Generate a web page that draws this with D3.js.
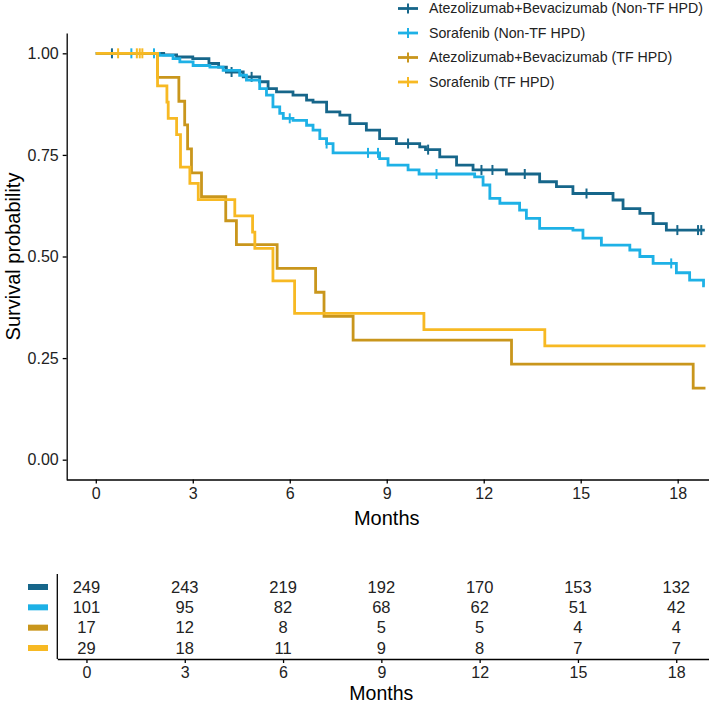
<!DOCTYPE html>
<html>
<head>
<meta charset="utf-8">
<script src="https://cdn.jsdelivr.net/npm/d3@7"></script>
<style>
  body { margin: 0; background: #fff; }
  svg { font-family: "Liberation Sans", Arial, sans-serif; }
  .axis path, .axis line { stroke: #000; stroke-width: 1.3; }
  .axis text { font-size: 16px; fill: #222; }
</style>
</head>
<body>
<svg id="km"></svg>
<script>
"use strict";

// groups and colours
const groups = [
  "Atezolizumab+Bevacizumab (Non-TF HPD)",
  "Sorafenib (Non-TF HPD)",
  "Atezolizumab+Bevacizumab (TF HPD)",
  "Sorafenib (TF HPD)"
];
const palette = ["#16668a", "#1eb1e6", "#c9961c", "#f7b923"];

// step points [month, survival]
const atezoNonTF = [[0,1],[2.1,0.996],[2.5,0.991],[3.0,0.987],[3.5,0.975],[3.8,0.966],[4.04,0.954],
  [4.56,0.942],[5.07,0.93],[5.33,0.913],[5.59,0.905],[6.1,0.897],[6.52,0.885],[6.72,0.88],[7.14,0.856],
  [7.55,0.848],[7.86,0.827],[8.37,0.811],[8.78,0.79],[9.3,0.778],[10.02,0.77],[10.2,0.763],[10.64,0.745],
  [11.16,0.725],[11.67,0.713],[12.7,0.703],[13.73,0.684],[14.25,0.672],[14.76,0.655],[16.0,0.639],
  [16.31,0.618],[16.83,0.606],[17.24,0.581],[17.65,0.565],[18.84,0.565]];
const sorafNonTF = [[0,1],[1.96,0.995],[2.39,0.987],[2.6,0.979],[3.01,0.97],[3.53,0.966],[3.94,0.958],
  [4.45,0.946],[4.66,0.934],[5.07,0.913],[5.28,0.897],[5.48,0.868],[5.69,0.852],[5.8,0.84],[6.1,0.835],
  [6.52,0.823],[6.72,0.811],[6.93,0.79],[7.14,0.778],[7.34,0.755],[8.78,0.741],[9.04,0.725],[9.66,0.713],
  [10.0,0.703],[11.72,0.696],[11.98,0.676],[12.19,0.643],[12.5,0.631],[13.11,0.614],[13.32,0.594],
  [13.73,0.569],[14.76,0.565],[15.07,0.545],[15.64,0.528],[16.52,0.516],[16.83,0.5],[17.24,0.483],
  [17.96,0.46],[18.37,0.442],[18.8,0.428],[18.84,0.428]];
const atezoTF = [[0,1],[1.91,0.941],[2.57,0.882],[2.75,0.824],[2.84,0.765],[2.96,0.706],[3.27,0.647],
  [4.02,0.588],[4.35,0.529],[5.61,0.471],[6.8,0.412],[7.06,0.353],[7.96,0.294],[12.86,0.235],
  [18.48,0.176],[18.86,0.176]];
const sorafTF = [[0,1],[1.91,0.92],[2.2,0.88],[2.24,0.84],[2.5,0.8],[2.62,0.72],[2.91,0.68],[3.17,0.64],
  [4.3,0.6],[4.85,0.56],[4.92,0.52],[5.48,0.44],[6.15,0.36],[10.15,0.32],[13.89,0.28],[18.86,0.28]];
const curves = [atezoNonTF, sorafNonTF, atezoTF, sorafTF];

// censored times (months)
const censorAtezoNonTF = [0.5, 4.2, 4.82, 9.66, 10.28, 11.93, 12.27, 13.27, 15.18, 17.99, 18.63, 18.73];
const censorSorafNonTF = [1.1, 1.8, 6.0, 7.14, 8.42, 8.73, 10.54, 17.8];
const censorAtezoTF = [];
const censorSorafTF = [0.69, 1.27, 1.36, 1.44];
const censors = [censorAtezoNonTF, censorSorafNonTF, censorAtezoTF, censorSorafTF];

// ticks and number at risk
const monthTicks = [0, 3, 6, 9, 12, 15, 18];
const survTicks = [0, 0.25, 0.5, 0.75, 1];
const riskAtezoNonTF = [249, 243, 219, 192, 170, 153, 132];
const riskSorafNonTF = [101, 95, 82, 68, 62, 51, 42];
const riskAtezoTF = [17, 12, 8, 5, 5, 4, 4];
const riskSorafTF = [29, 18, 11, 9, 8, 7, 7];
const risks = [riskAtezoNonTF, riskSorafNonTF, riskAtezoTF, riskSorafTF];

const width = 709, height = 706;
const svg = d3.select("#km").attr("width", width).attr("height", height);

// main plot scales
const x = d3.scaleLinear().domain([-0.9, 19.0]).range([66.7, 710]);
const y = d3.scaleLinear().domain([-0.05, 1.05]).range([480, 33]);

const survAt = (pts, t) => {
  let s = 1;
  pts.forEach(p => { if (p[0] <= t) s = p[1]; });
  return s;
};

// axes
svg.append("g")
  .attr("class", "axis")
  .attr("transform", "translate(0,479.5)")
  .call(d3.axisBottom(x).tickValues(monthTicks).tickSize(4).tickSizeOuter(0).tickPadding(4));
svg.append("g")
  .attr("class", "axis")
  .attr("transform", "translate(66.7,0)")
  .call(d3.axisLeft(y).tickValues(survTicks).tickFormat(d3.format(".2f")).tickSize(4).tickSizeOuter(0).tickPadding(4));

svg.append("text")
  .attr("x", x(9))
  .attr("y", 525)
  .attr("text-anchor", "middle")
  .style("font-size", "20px")
  .text("Months");
svg.append("text")
  .attr("transform", `translate(20,${y(0.5)}) rotate(-90)`)
  .attr("text-anchor", "middle")
  .style("font-size", "20px")
  .text("Survival probability");

// curves
const line = d3.line()
  .x(d => x(d[0]))
  .y(d => y(d[1]))
  .curve(d3.curveStepAfter);

curves.forEach((pts, i) => {
  svg.append("path")
    .datum(pts)
    .attr("d", line)
    .attr("fill", "none")
    .attr("stroke", palette[i])
    .attr("stroke-width", 2.8);
  svg.append("g")
    .selectAll("line")
    .data(censors[i])
    .join("line")
    .attr("x1", d => x(d))
    .attr("x2", d => x(d))
    .attr("y1", d => y(survAt(pts, d)) - 5)
    .attr("y2", d => y(survAt(pts, d)) + 5)
    .attr("stroke", palette[i])
    .attr("stroke-width", 2);
});

// legend
const legY = d3.scalePoint().domain(groups).range([8.5, 82]);
const leg = svg.append("g");
groups.forEach((g, i) => {
  const cy = legY(g);
  leg.append("line").attr("x1", 398).attr("x2", 418).attr("y1", cy).attr("y2", cy)
    .attr("stroke", palette[i]).attr("stroke-width", 2.8);
  leg.append("line").attr("x1", 408).attr("x2", 408).attr("y1", cy - 5).attr("y2", cy + 5)
    .attr("stroke", palette[i]).attr("stroke-width", 2);
  leg.append("text").attr("x", 429).attr("y", cy).attr("dy", "0.35em")
    .style("font-size", "14.2px").attr("fill", "#222").text(g);
});

// risk table
const xt = d3.scaleLinear().domain([-0.89, 19.0]).range([57.3, 709]);
const rowY = d3.scalePoint().domain(groups).range([587, 648]);

svg.append("g")
  .attr("class", "axis")
  .attr("transform", "translate(0,659)")
  .call(d3.axisBottom(xt).tickValues(monthTicks).tickSize(4).tickSizeOuter(0).tickPadding(4));
svg.append("line")
  .attr("x1", 57.3).attr("x2", 57.3).attr("y1", 574).attr("y2", 659)
  .attr("stroke", "#000").attr("stroke-width", 1.3);
svg.append("text")
  .attr("x", xt(9))
  .attr("y", 700)
  .attr("text-anchor", "middle")
  .style("font-size", "19.5px")
  .text("Months");

groups.forEach((g, i) => {
  svg.append("rect")
    .attr("x", 28).attr("y", rowY(g) - 3).attr("width", 20).attr("height", 6)
    .attr("fill", palette[i]);
  svg.append("g")
    .selectAll("text")
    .data(risks[i])
    .join("text")
    .attr("x", (d, j) => xt(monthTicks[j]))
    .attr("y", rowY(g))
    .attr("dy", "0.35em")
    .attr("text-anchor", "middle")
    .style("font-size", "16.5px")
    .attr("fill", "#222")
    .text(d => d);
});
</script>
</body>
</html>
